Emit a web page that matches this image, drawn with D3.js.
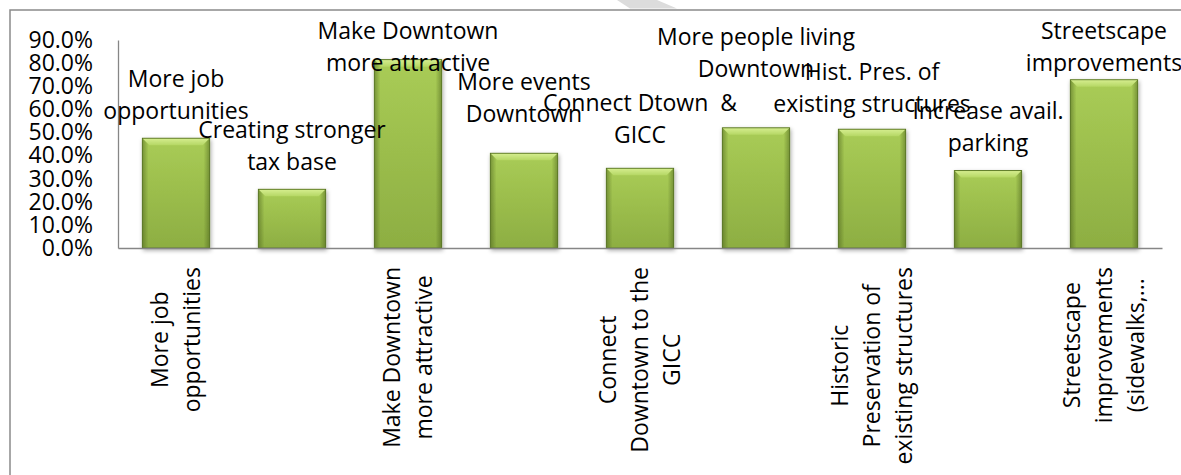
<!DOCTYPE html>
<html>
<head>
<meta charset="utf-8">
<script src="https://cdn.jsdelivr.net/npm/d3@7"></script>
<style>
  html, body { margin: 0; padding: 0; background: #ffffff; }
  svg { display: block; }
  text { font-family: "Open Sans", "Noto Sans", sans-serif; fill: #000; }
</style>
</head>
<body>
<svg id="chart" width="1181" height="475"></svg>
<script>
// ---- Data ----
const categories = [
  "More job\nopportunities",
  "Creating stronger\ntax base",
  "Make Downtown\nmore attractive",
  "More events\nDowntown",
  "Connect\nDowntown to the\nGICC",
  "More people living\nDowntown",
  "Historic\nPreservation of\nexisting structures",
  "Increase avail.\nparking",
  "Streetscape\nimprovements\n(sidewalks,..."
];
const values = [0.475, 0.254, 0.815, 0.410, 0.345, 0.520, 0.514, 0.335, 0.728];
const dataLabels = [
  "More job\nopportunities",
  "Creating stronger\ntax base",
  "Make Downtown\nmore attractive",
  "More events\nDowntown",
  "Connect Dtown  &\nGICC",
  "More people living\nDowntown\n",
  "Hist. Pres. of\nexisting structures",
  "Increase avail.\nparking",
  "Streetscape\nimprovements"
];
const yTicks = [0, 0.1, 0.2, 0.3, 0.4, 0.5, 0.6, 0.7, 0.8, 0.9];

// ---- Layout ----
const W = 1181, H = 475;
const plot = { left: 118, right: 1162, top: 40, bottom: 248 };
const FONT = 23, LINE = 32;
// gap (px) between each bar top and its label's last baseline, as placed in the original
const labelGap = [19, 19, 19, 31, 25, 19, 17, 20, 19];

const svg = d3.select("#chart");
const defs = svg.append("defs");

const gBody = defs.append("linearGradient").attr("id", "barBody")
  .attr("x1", 0).attr("y1", 0).attr("x2", 0).attr("y2", 1);
gBody.append("stop").attr("offset", "0%").attr("stop-color", "#a9cc56");
gBody.append("stop").attr("offset", "100%").attr("stop-color", "#8dae42");

const gEdge = defs.append("linearGradient").attr("id", "barEdge")
  .attr("x1", 0).attr("y1", 0).attr("x2", 1).attr("y2", 0);
[["0%", 0.45], ["9%", 0], ["91%", 0], ["100%", 0.45]].forEach(([o, a]) =>
  gEdge.append("stop").attr("offset", o).attr("stop-color", "#3d5214").attr("stop-opacity", a));

const gTop = defs.append("linearGradient").attr("id", "barTop")
  .attr("x1", 0).attr("y1", 0).attr("x2", 0).attr("y2", 1);
gTop.append("stop").attr("offset", "0%").attr("stop-color", "#d6ee90");
gTop.append("stop").attr("offset", "100%").attr("stop-color", "#b5d764");

const shadow = defs.append("filter").attr("id", "shadow")
  .attr("x", "-20%").attr("y", "-20%").attr("width", "140%").attr("height", "140%");
shadow.append("feDropShadow").attr("dx", 1).attr("dy", 2).attr("stdDeviation", 2)
  .attr("flood-color", "#000").attr("flood-opacity", 0.35);

// decorative mark at the top edge
svg.append("polygon")
  .attr("points", "617,0 657,0 677,8.5 630,8.5")
  .attr("fill", "#dcdcdc");

// chart border (extends beyond the right and bottom edges)
svg.append("rect")
  .attr("x", 10).attr("y", 10).attr("width", 1300).attr("height", 600)
  .attr("fill", "none").attr("stroke", "#8a8a8a").attr("stroke-width", 1.5);

// ---- Scales ----
const x = d3.scaleBand()
  .domain(d3.range(categories.length))
  .range([plot.left, plot.right])
  .paddingInner(0.42)
  .paddingOuter(0.21);

const y = d3.scaleLinear().domain([0, 0.9]).range([plot.bottom, plot.top]);

// ---- Y axis ----
const yAxis = svg.append("g")
  .attr("transform", `translate(${plot.left},0)`)
  .call(d3.axisLeft(y).tickValues(yTicks).tickFormat(d3.format(".1%"))
    .tickSizeInner(0).tickSizeOuter(0).tickPadding(25));
yAxis.select(".domain").attr("stroke", "#868686").attr("stroke-width", 1.3);
yAxis.selectAll("text").style("font-size", FONT + "px")
  .style("font-family", '"Open Sans", sans-serif').attr("fill", "#000");

// ---- Bars ----
const bars = svg.append("g").attr("filter", "url(#shadow)");
const bw = x.bandwidth();
const bevel = 7;
values.forEach((v, i) => {
  const x0 = x(i), x1 = x(i) + bw, yt = y(v), yb = y(0);
  const g = bars.append("g");
  g.append("rect").attr("x", x0).attr("y", yt).attr("width", bw).attr("height", yb - yt)
    .attr("fill", "url(#barBody)");
  g.append("rect").attr("x", x0).attr("y", yt).attr("width", bw).attr("height", yb - yt)
    .attr("fill", "url(#barEdge)");
  g.append("polygon")
    .attr("points", [[x0, yt], [x1, yt], [x1 - bevel, yt + bevel], [x0 + bevel, yt + bevel]].join(" "))
    .attr("fill", "url(#barTop)");
  g.append("rect").attr("x", x0).attr("y", yt).attr("width", bw).attr("height", yb - yt)
    .attr("fill", "none").attr("stroke", "#56731f").attr("stroke-width", 0.9);
});

// ---- X axis ----
const xAxis = svg.append("g")
  .attr("transform", `translate(0,${plot.bottom})`)
  .call(d3.axisBottom(x).tickSize(0).tickSizeOuter(0).tickFormat(""));
xAxis.select(".domain").attr("stroke", "#868686").attr("stroke-width", 1.3);

// rotated category labels (every other one shown)
const labelTop = 267;
categories.forEach((c, i) => {
  if (i % 2 !== 0) return;
  const lines = c.split("\n");
  const cx = x(i) + bw / 2;
  const g = svg.append("g").attr("transform", `translate(${cx},${labelTop}) rotate(-90)`);
  const texts = lines.map((ln, k) => g.append("text")
    .style("font-size", FONT + "px")
    .attr("text-anchor", "middle")
    .attr("y", -lines.length * LINE / 2 + k * LINE + 24)
    .text(ln));
  const maxW = d3.max(texts, t => t.node().getComputedTextLength());
  texts.forEach(t => t.attr("x", -maxW / 2));
});

// ---- Data labels ----
const minFirstBaseline = 39;
dataLabels.forEach((lab, i) => {
  const lines = lab.split("\n");
  const cx = x(i) + bw / 2;
  let last = y(values[i]) - labelGap[i];
  let first = last - (lines.length - 1) * LINE;
  if (first < minFirstBaseline) first = minFirstBaseline;
  lines.forEach((ln, k) => {
    svg.append("text")
      .style("font-size", FONT + "px")
      .style("white-space", "pre")
      .attr("text-anchor", "middle")
      .attr("x", cx)
      .attr("y", first + k * LINE)
      .text(ln);
  });
});
</script>
</body>
</html>
